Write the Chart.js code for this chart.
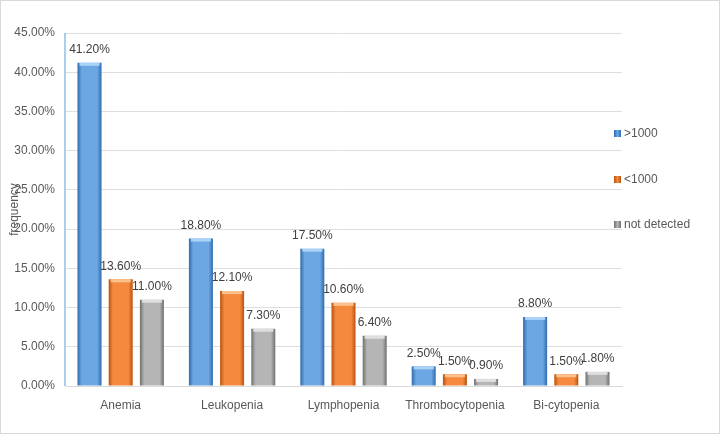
<html>
<head>
<script src="https://cdn.jsdelivr.net/npm/chart.js"></script>
<style>
  body { margin: 0; background: #fff; }
  #wrap { width: 720px; height: 434px; box-sizing: border-box; border: 1px solid #d9d9d9; }
</style>
</head>
<body>
<div id="wrap"><canvas id="chart" width="718" height="432"></canvas></div>
<script>
const categories = ['Anemia', 'Leukopenia', 'Lymphopenia', 'Thrombocytopenia', 'Bi-cytopenia'];
const over1000 = [41.2, 18.8, 17.5, 2.5, 8.8];
const under1000 = [13.6, 12.1, 10.6, 1.5, 1.5];
const notDetected = [11.0, 7.3, 6.4, 0.9, 1.8];
const seriesNames = ['>1000', '<1000', 'not detected'];

// edge / centre colours for the bevelled Excel look
const shades = [
  { edge: '#2f6aad', mid: '#6ca7e3', cap: '#a9d3f7' },
  { edge: '#b8520e', mid: '#f58a3e', cap: '#fcc08c' },
  { edge: '#6f6f6f', mid: '#b5b5b5', cap: '#dedede' }
];
const font = "'Liberation Sans', 'Open Sans', sans-serif";
const textColor = '#595959';

const bevel = {
  id: 'bevel',
  beforeDatasetsDraw(chart) {
    const ctx = chart.ctx;
    chart.data.datasets.forEach((ds, i) => {
      chart.getDatasetMeta(i).data.forEach(bar => {
        const g = ctx.createLinearGradient(bar.x - bar.width / 2, 0, bar.x + bar.width / 2, 0);
        g.addColorStop(0, shades[i].edge);
        g.addColorStop(0.18, shades[i].mid);
        g.addColorStop(0.82, shades[i].mid);
        g.addColorStop(1, shades[i].edge);
        bar.options.backgroundColor = g;
      });
    });
  },
  afterDatasetsDraw(chart) {
    const ctx = chart.ctx;
    ctx.save();
    chart.data.datasets.forEach((ds, i) => {
      chart.getDatasetMeta(i).data.forEach((bar, j) => {
        const h = Math.min(3, bar.base - bar.y);
        ctx.fillStyle = shades[i].cap;
        ctx.fillRect(bar.x - bar.width / 2 + 2, bar.y, bar.width - 4, h);
        // value label
        ctx.fillStyle = '#404040';
        ctx.font = '12px ' + font;
        ctx.textAlign = 'center';
        ctx.textBaseline = 'bottom';
        ctx.fillText(ds.data[j].toFixed(2) + '%', bar.x, bar.y - 7);
      });
    });
    ctx.restore();
  },
  afterDraw(chart) {
    const ctx = chart.ctx;
    const a = chart.chartArea;
    ctx.save();
    // blue value axis line
    ctx.strokeStyle = '#8fbde8';
    ctx.lineWidth = 1.5;
    ctx.beginPath();
    ctx.moveTo(a.left, a.top);
    ctx.lineTo(a.left, a.bottom);
    ctx.stroke();
    // legend
    const ys = [132, 178, 223];
    ctx.font = '12px ' + font;
    ctx.textBaseline = 'middle';
    ctx.textAlign = 'left';
    seriesNames.forEach((name, i) => {
      const x = 613, y = ys[i];
      const g = ctx.createLinearGradient(x, 0, x + 7, 0);
      g.addColorStop(0, shades[i].edge);
      g.addColorStop(0.5, shades[i].mid);
      g.addColorStop(1, shades[i].edge);
      ctx.fillStyle = g;
      ctx.fillRect(x, y - 3, 7, 7);
      ctx.fillStyle = textColor;
      ctx.fillText(name, x + 10, y + 1);
    });
    ctx.restore();
  }
};

new Chart(document.getElementById('chart'), {
  type: 'bar',
  data: {
    labels: categories,
    datasets: [over1000, under1000, notDetected].map((d, i) => ({
      label: seriesNames[i],
      data: d,
      // scriptable so every bar gets its own options object
      backgroundColor: c => shades[c.datasetIndex].mid,
      borderWidth: 0,
      barPercentage: 0.77,
      categoryPercentage: 0.84
    }))
  },
  options: {
    responsive: false,
    animation: false,
    layout: { padding: { left: 6, right: 97, top: 32, bottom: 8 } },
    plugins: { legend: { display: false }, tooltip: { enabled: false } },
    scales: {
      x: {
        grid: { display: false, drawTicks: false },
        border: { color: '#d9d9d9' },
        ticks: { color: textColor, font: { family: font, size: 12 }, padding: 12 },
        afterFit(s) { s.height = 39; }
      },
      y: {
        min: 0,
        max: 45,
        grid: { color: '#dedede', drawTicks: false },
        border: { display: false },
        ticks: {
          stepSize: 5,
          color: textColor,
          font: { family: font, size: 12 },
          padding: 10,
          callback: v => v.toFixed(2) + '%'
        },
        title: {
          display: true,
          text: 'frequency',
          color: textColor,
          font: { family: font, size: 12 },
          padding: 0
        },
        afterFit(s) { s.width = 58; }
      }
    }
  },
  plugins: [bevel]
});
</script>
</body>
</html>
